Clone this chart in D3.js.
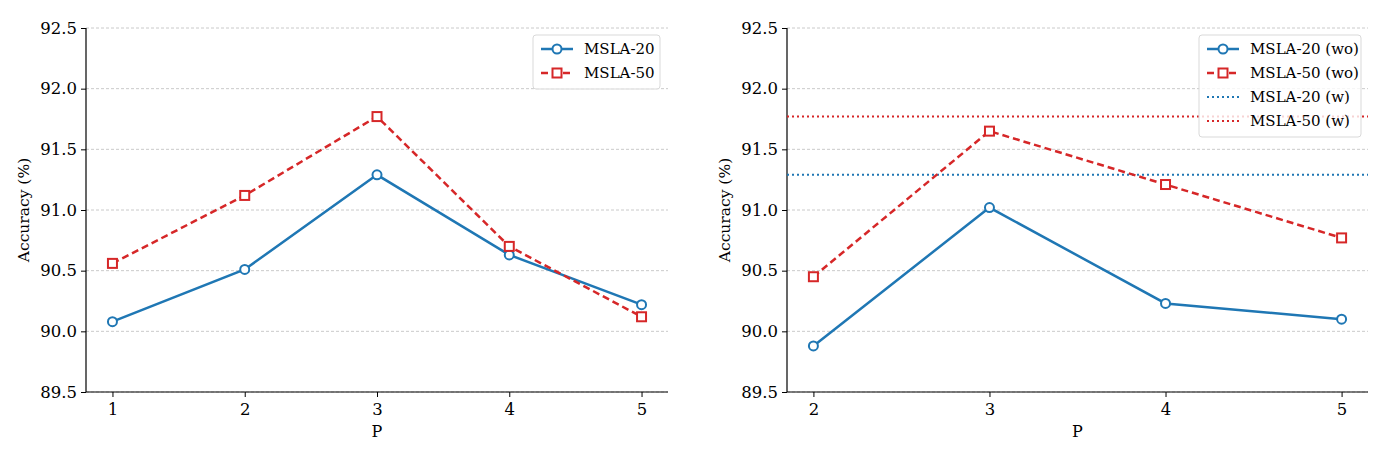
<!DOCTYPE html>
<html>
<head>
<meta charset="utf-8">
<script src="https://cdn.jsdelivr.net/npm/d3@7"></script>
<style>
  body { margin: 0; background: #fff; }
  svg text { font-family: "DejaVu Serif", serif; fill: #000; }
</style>
</head>
<body>
<div id="chart"></div>
<script>
const width = 1389;
const height = 460;

// data
const pLeft = [1, 2, 3, 4, 5];
const msla20 = [90.08, 90.51, 91.29, 90.63, 90.22];
const msla50 = [90.56, 91.12, 91.77, 90.70, 90.12];

const pRight = [2, 3, 4, 5];
const msla20wo = [89.88, 91.02, 90.23, 90.10];
const msla50wo = [90.45, 91.65, 91.21, 90.77];
const msla20w = 91.29;
const msla50w = 91.77;

const yTicks = [89.5, 90.0, 90.5, 91.0, 91.5, 92.0, 92.5];

const blue = "#1f77b4";
const red = "#d62728";

const svg = d3.select("#chart")
  .append("svg")
  .attr("width", width)
  .attr("height", height);

function panel(opts) {
  const g = svg.append("g");
  const x = d3.scaleLinear().domain(opts.xDomain).range([opts.left, opts.right]);
  const y = d3.scaleLinear().domain([89.5, 92.5]).range([392, 28]);

  // grid
  g.selectAll(".grid")
    .data(yTicks)
    .enter()
    .append("line")
    .attr("x1", opts.left).attr("x2", opts.right)
    .attr("y1", d => y(d)).attr("y2", d => y(d))
    .attr("stroke", "#bdbdbd")
    .attr("stroke-width", 0.8)
    .attr("stroke-dasharray", "3,2");

  const yAxis = d3.axisLeft(y).tickValues(yTicks).tickFormat(d3.format(".1f")).tickSize(5).tickPadding(4);
  const xAxis = d3.axisBottom(x).tickValues(opts.ticks).tickFormat(d3.format("d")).tickSize(5).tickPadding(6);

  const ya = g.append("g")
    .attr("transform", `translate(${opts.left},0)`)
    .call(yAxis);
  const xa = g.append("g")
    .attr("transform", `translate(0,392)`)
    .call(xAxis);
  [ya, xa].forEach(a => {
    a.select(".domain").attr("stroke", "#000").attr("stroke-width", 1.2);
    a.selectAll(".tick line").attr("stroke", "#000");
    a.selectAll("text").style("font-size", "16.5px").attr("fill", "#000");
  });
  // drop the outer tick stubs of the domain path
  ya.select(".domain").attr("d", `M0,${y(92.5)}V${y(89.5)}`);
  xa.select(".domain").attr("d", `M${opts.left},0H${opts.right}`);

  g.append("text")
    .attr("transform", `translate(${opts.left - 57},${y(91)}) rotate(-90)`)
    .attr("text-anchor", "middle")
    .style("font-size", "15.5px")
    .text("Accuracy (%)");

  g.append("text")
    .attr("x", (opts.left + opts.right) / 2)
    .attr("y", 437)
    .attr("text-anchor", "middle")
    .style("font-size", "16px")
    .text("P");

  (opts.hlines || []).forEach(h => {
    g.append("line")
      .attr("x1", opts.left).attr("x2", opts.right)
      .attr("y1", y(h.value)).attr("y2", y(h.value))
      .attr("stroke", h.color)
      .attr("stroke-width", 2)
      .attr("stroke-dasharray", "2,3");
  });

  opts.series.forEach(s => {
    const pts = opts.xs.map((p, i) => [p, s.values[i]]);
    g.append("path")
      .datum(pts)
      .attr("fill", "none")
      .attr("stroke", s.color)
      .attr("stroke-width", 2.5)
      .attr("stroke-dasharray", s.dash || null)
      .attr("d", d3.line().x(d => x(d[0])).y(d => y(d[1])));
    drawMarkers(g, pts.map(d => [x(d[0]), y(d[1])]), s);
  });

  // legend
  const lg = g.append("g").attr("transform", `translate(${opts.legend.x},${opts.legend.y})`);
  lg.append("rect")
    .attr("width", opts.legend.w)
    .attr("height", opts.legend.items.length * 24 + 6)
    .attr("rx", 3)
    .attr("fill", "#fff")
    .attr("fill-opacity", 0.8)
    .attr("stroke", "#d9d9d9");
  opts.legend.items.forEach((it, i) => {
    const cy = 14 + i * 24;
    lg.append("line")
      .attr("x1", 8).attr("x2", 40)
      .attr("y1", cy).attr("y2", cy)
      .attr("stroke", it.color)
      .attr("stroke-width", it.marker ? 2.5 : 2)
      .attr("stroke-dasharray", it.dash || null);
    if (it.marker) drawMarkers(lg, [[24, cy]], it);
    lg.append("text")
      .attr("x", 51)
      .attr("y", cy + 5)
      .style("font-size", "15px")
      .text(it.label);
  });
}

function drawMarkers(g, pts, s) {
  if (s.marker === "circle") {
    g.selectAll(null).data(pts).enter().append("circle")
      .attr("cx", d => d[0]).attr("cy", d => d[1]).attr("r", 4.5)
      .attr("fill", "#fff").attr("stroke", s.color).attr("stroke-width", 2);
  } else if (s.marker === "square") {
    g.selectAll(null).data(pts).enter().append("rect")
      .attr("x", d => d[0] - 4.5).attr("y", d => d[1] - 4.5)
      .attr("width", 9).attr("height", 9)
      .attr("fill", "#fff").attr("stroke", s.color).attr("stroke-width", 2);
  }
}

const s20 = { color: blue, marker: "circle" };
const s50 = { color: red, marker: "square", dash: "7,4" };

panel({
  left: 86, right: 668,
  xDomain: [0.8, 5.2],
  ticks: pLeft,
  xs: pLeft,
  series: [
    Object.assign({ values: msla20 }, s20),
    Object.assign({ values: msla50 }, s50)
  ],
  legend: {
    x: 533, y: 35, w: 127,
    items: [
      Object.assign({ label: "MSLA-20" }, s20),
      Object.assign({ label: "MSLA-50" }, s50)
    ]
  }
});

panel({
  left: 787, right: 1368,
  xDomain: [1.85, 5.15],
  ticks: pRight,
  xs: pRight,
  hlines: [
    { value: msla20w, color: blue },
    { value: msla50w, color: red }
  ],
  series: [
    Object.assign({ values: msla20wo }, s20),
    Object.assign({ values: msla50wo }, s50)
  ],
  legend: {
    x: 1199, y: 35, w: 162,
    items: [
      Object.assign({ label: "MSLA-20 (wo)" }, s20),
      Object.assign({ label: "MSLA-50 (wo)" }, s50),
      { label: "MSLA-20 (w)", color: blue, dash: "2,3" },
      { label: "MSLA-50 (w)", color: red, dash: "2,3" }
    ]
  }
});
</script>
</body>
</html>
